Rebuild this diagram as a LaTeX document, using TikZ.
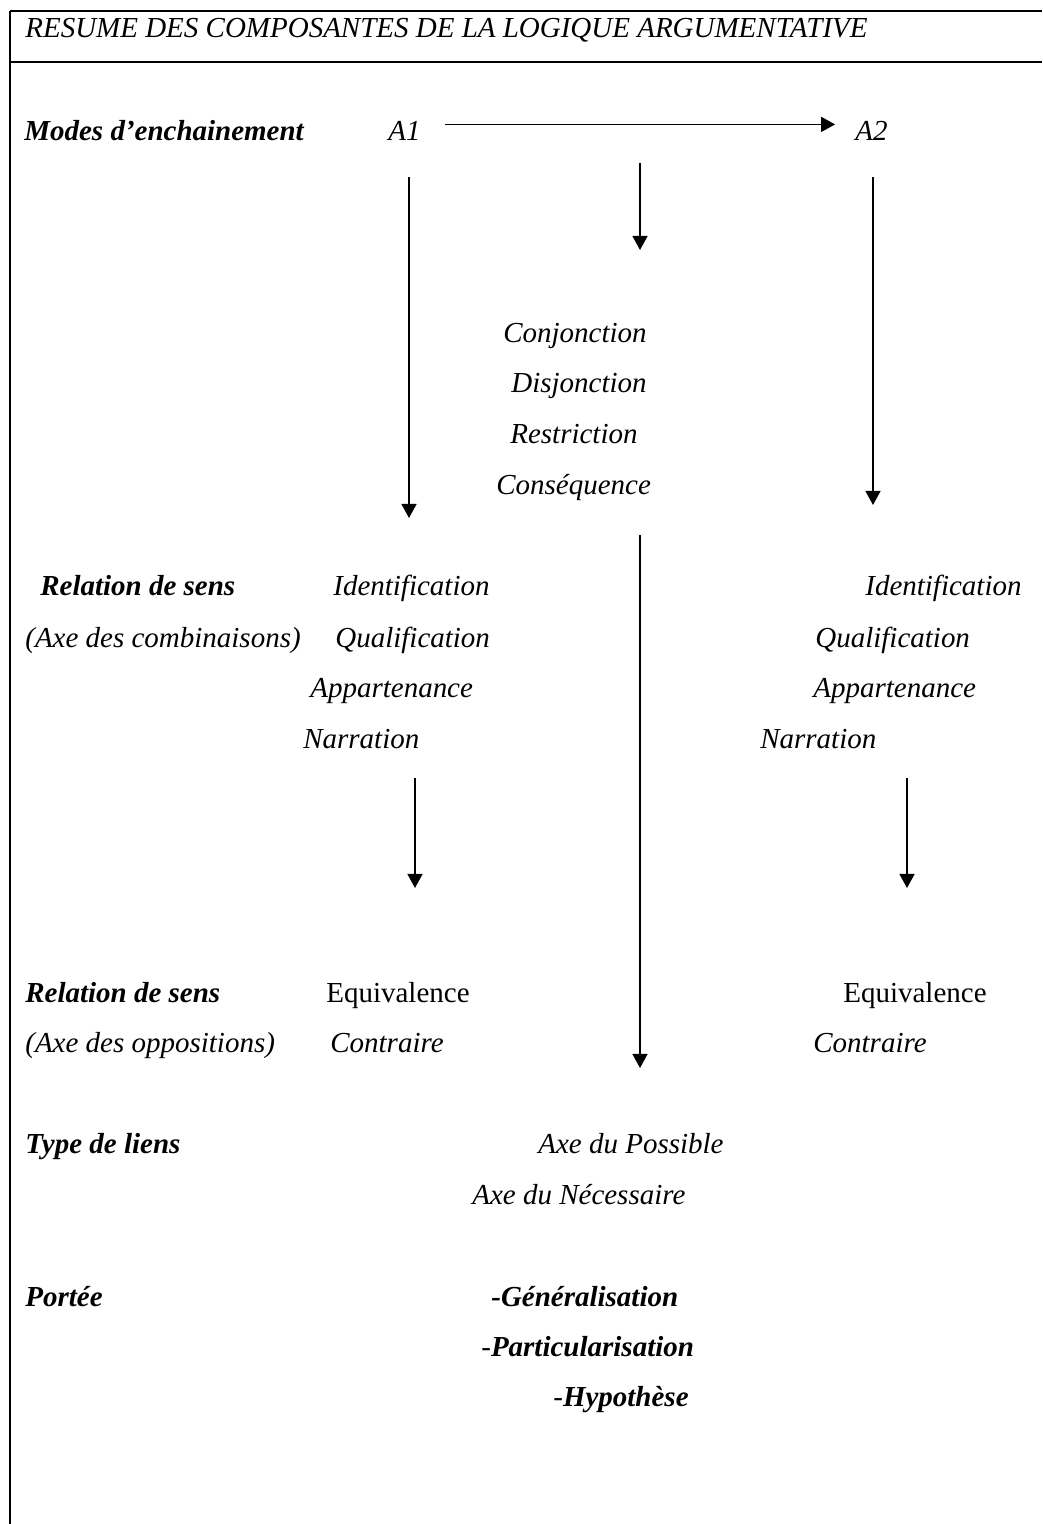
\documentclass[tikz,border=0pt]{standalone}
\usepackage{fontspec}
\setmainfont{Liberation Serif}
\usetikzlibrary{arrows.meta}

\begin{document}
\begin{tikzpicture}[x=0.02cm,y=-0.02cm,
   txt/.style={anchor=base west,inner sep=0pt,font=\fontsize{16.5}{20}\selectfont\itshape},
   gras/.style={txt,font=\fontsize{16.5}{20}\selectfont\bfseries\itshape},
   droit/.style={txt,font=\fontsize{16.5}{20}\selectfont\upshape},
   fleche/.style={-{Triangle[length=8pt,width=8.5pt]},line width=1pt},
   cadre/.style={line width=1.1pt}]
         \useasboundingbox (0,0) rectangle (1042,1524) ;
         % cadre
         \draw[cadre] (10,11) -- (1042,11) ;
         \draw[cadre] (10,62) -- (1042,62) ;
         \draw[cadre] (10,11) -- (10,1524) ;
         \node[txt] (titre) at (25,38) {RESUME DES COMPOSANTES DE LA LOGIQUE ARGUMENTATIVE} ;
         % enchainement
         \node[gras] (modes) at (24,141) {Modes d’enchainement} ;
         \node[txt] (A1) at (388,141) {A1} ;
         \node[txt] (A2) at (855,141) {A2} ;
         \node[txt] (conj) at (503,342) {Conjonction} ;
         \node[txt] (disj) at (511,392) {Disjonction} ;
         \node[txt] (restr) at (510,443) {Restriction} ;
         \node[txt] (conseq) at (496,494) {Conséquence} ;
         % axe des combinaisons
         \node[gras] (rel1) at (40,595) {Relation de sens} ;
         \node[txt] (comb) at (25,647) {(Axe des combinaisons)} ;
         \node[txt] (idG) at (333,595) {Identification} ;
         \node[txt] (qualG) at (335,647) {Qualification} ;
         \node[txt] (appG) at (310,697) {Appartenance} ;
         \node[txt] (narG) at (303,748) {Narration} ;
         \node[txt] (idD) at (865,595) {Identification} ;
         \node[txt] (qualD) at (815,647) {Qualification} ;
         \node[txt] (appD) at (813,697) {Appartenance} ;
         \node[txt] (narD) at (760,748) {Narration} ;
         % axe des oppositions
         \node[gras] (rel2) at (25,1002) {Relation de sens} ;
         \node[txt] (opp) at (25,1052) {(Axe des oppositions)} ;
         \node[droit] (eqG) at (326,1002) {Equivalence} ;
         \node[txt] (contG) at (330,1052) {Contraire} ;
         \node[droit] (eqD) at (843,1002) {Equivalence} ;
         \node[txt] (contD) at (813,1052) {Contraire} ;
         % liens et portee
         \node[gras] (type) at (25,1153) {Type de liens} ;
         \node[txt] (poss) at (538,1153) {Axe du Possible} ;
         \node[txt] (nec) at (472,1204) {Axe du Nécessaire} ;
         \node[gras] (portee) at (25,1306) {Portée} ;
         \node[gras] (gen) at (491,1306) {-Généralisation} ;
         \node[txt] (part) at (481,1356) {-\textbf{Particularisation}} ;
         \node[txt] (hyp) at (553,1406) {-\textbf{Hypothèse}} ;
         % fleches
         \coordinate (m1) at (640,163) ; \coordinate (m2) at (640,250) ;
         \coordinate (m3) at (640,535) ; \coordinate (m4) at (640,1068) ;
         \coordinate (g1) at (409,177) ; \coordinate (g2) at (409,518) ;
         \coordinate (d1) at (873,177) ; \coordinate (d2) at (873,505) ;
         \coordinate (g3) at (415,778) ; \coordinate (g4) at (415,888) ;
         \coordinate (d3) at (907,778) ; \coordinate (d4) at (907,888) ;
         \draw[fleche,shorten <=13.6pt,shorten >=11.3pt] ([yshift=4pt]A1.east) -- ([yshift=4pt]A1.east -| A2.west) ;
         \draw[fleche] (m1) -- (m2) ;
         \draw[fleche] (m3) -- (m4) ;
         \draw[fleche] (g1) -- (g2) ;
         \draw[fleche] (d1) -- (d2) ;
         \draw[fleche] (g3) -- (g4) ;
         \draw[fleche] (d3) -- (d4) ;
      \end{tikzpicture}
\end{document}
